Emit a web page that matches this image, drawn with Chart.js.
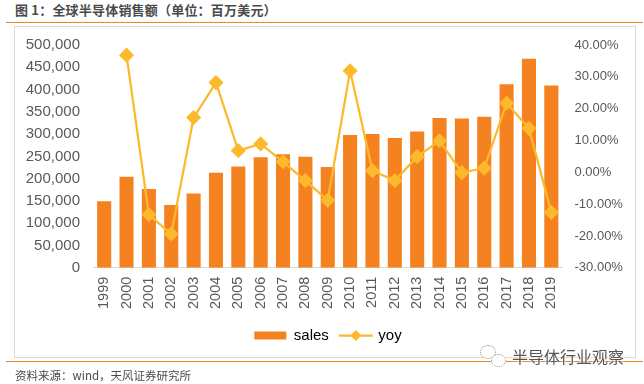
<!DOCTYPE html>
<html lang="zh">
<head>
<meta charset="UTF-8" />
<title>全球半导体销售额</title>
<script src="https://cdn.jsdelivr.net/npm/chart.js@4/dist/chart.umd.min.js"></script>
<style>
  html, body { margin: 0; padding: 0; background: #fff; }
  #wrap { position: relative; width: 644px; height: 384px; overflow: hidden; }
  #chart { position: absolute; left: 0; top: 0; }
  .cjk { position: absolute; font-family: "Noto Sans CJK SC", sans-serif; white-space: nowrap; }
  #title { left: 15px; top: 0px; font-size: 13px; line-height: 20px; font-weight: 700; letter-spacing: 0.2px; color: #4a4a4a; }
  #source { left: 15px; top: 366px; font-size: 11.5px; line-height: 18px; color: #4a4a4a; }
  #mark { left: 512px; top: 345px; font-size: 16px; line-height: 22px; color: #555; text-shadow: 0 0 2px #fff, 0 0 2px #fff; }
  .rule { position: absolute; left: 6px; right: 1px; height: 1px; background: #f5821f; }
  #frame { position: absolute; left: 14px; top: 26px; width: 620px; height: 330px; border: 1px solid #d9d9d9; }
  .bubble { position: absolute; border: 1px dotted #888; border-radius: 50%; background: #fff; }
</style>
</head>
<body>
<div id="wrap">
  <div id="title" class="cjk">图 1&#xFF1A;全球半导体销售额&#xFF08;单位&#xFF1A;百万美元&#xFF09;</div>
  <div class="rule" style="top:22px"></div>
  <div id="frame"></div>
  <div class="rule" style="top:361px"></div>
  <canvas id="chart" width="644" height="384"></canvas>
  <div id="source" class="cjk">资料来源&#xFF1A;wind&#xFF0C;天风证券研究所</div>
  <div class="bubble" style="left:480px;top:345px;width:14px;height:12px"></div>
  <div class="bubble" style="left:491px;top:354px;width:13px;height:11px"></div>
  <div id="mark" class="cjk">半导体行业观察</div>
</div>
<script>
var years = ['1999','2000','2001','2002','2003','2004','2005','2006','2007','2008','2009','2010','2011','2012','2013','2014','2015','2016','2017','2018','2019'];
var sales = [149400,204000,177000,141000,166500,213000,227000,248000,255000,249000,226000,298000,300000,291000,306000,336000,335000,339000,412000,469000,409000];
var yoy = [null,36.8,-13.3,-19.4,17.2,28.2,6.8,8.9,3.3,-2.6,-8.8,31.9,0.5,-2.6,4.9,9.9,-0.1,1.3,21.7,13.8,-12.6];

var barColor = '#f58220';
var lineColor = '#fdb92c';
var textColor = '#595959';

// the built in legend has no line + marker swatch, so draw that one here
var yoySwatch = {
  id: 'yoySwatch',
  afterDraw: function (chart) {
    var box = chart.legend.legendHitBoxes[1];
    var ctx = chart.ctx;
    var y = box.top + box.height / 2;
    ctx.save();
    ctx.strokeStyle = lineColor;
    ctx.fillStyle = lineColor;
    ctx.lineWidth = 2.25;
    ctx.beginPath();
    ctx.moveTo(box.left, y);
    ctx.lineTo(box.left + 34, y);
    ctx.stroke();
    Chart.helpers.drawPoint(ctx, { pointStyle: 'rectRot', radius: 5.5, borderWidth: 0 }, box.left + 17, y);
    ctx.restore();
  }
};

new Chart(document.getElementById('chart').getContext('2d'), {
  type: 'bar',
  data: {
    labels: years,
    datasets: [
      { type: 'bar', label: 'sales', data: sales, yAxisID: 'y', backgroundColor: barColor, categoryPercentage: 1, barPercentage: 0.63, order: 2 },
      { type: 'line', label: 'yoy', data: yoy, yAxisID: 'y1', borderColor: lineColor, backgroundColor: lineColor, borderWidth: 2.25, tension: 0, pointStyle: 'rectRot', pointRadius: 6, order: 1 }
    ]
  },
  plugins: [yoySwatch],
  options: {
    responsive: false,
    animation: false,
    layout: { padding: { left: 12, top: 45, right: 0, bottom: 31 } },
    plugins: {
      tooltip: { enabled: false },
      legend: {
        position: 'bottom',
        labels: {
          boxWidth: 32,
          boxHeight: 8,
          color: textColor,
          font: { family: '"Liberation Sans"', size: 15 },
          generateLabels: function () {
            return [
              { text: 'sales', fillStyle: barColor, strokeStyle: barColor, lineWidth: 0, datasetIndex: 0 },
              { text: 'yoy', fillStyle: 'rgba(0,0,0,0)', strokeStyle: 'rgba(0,0,0,0)', lineWidth: 0, datasetIndex: 1 }
            ];
          }
        }
      }
    },
    scales: {
      x: {
        grid: { display: false, drawTicks: false },
        border: { color: '#d9d9d9' },
        ticks: { autoSkip: false, minRotation: 90, maxRotation: 90, padding: 9, color: textColor, font: { family: '"Liberation Sans"', size: 14.5 } }
      },
      y: {
        position: 'left',
        min: 0,
        max: 500000,
        grid: { display: false, drawTicks: false },
        border: { display: false },
        ticks: {
          stepSize: 50000,
          padding: 13,
          color: textColor,
          font: { family: '"Liberation Sans"', size: 15 },
          callback: function (v) { return v.toLocaleString('en-US'); }
        },
        afterFit: function (s) { s.width = 81; }
      },
      y1: {
        position: 'right',
        min: -30,
        max: 40,
        grid: { display: false, drawTicks: false },
        border: { display: false },
        ticks: {
          stepSize: 10,
          padding: 12,
          color: textColor,
          font: { family: '"Liberation Sans"', size: 13 },
          callback: function (v) { return v.toFixed(2) + '%'; }
        },
        afterFit: function (s) { s.width = 81.5; }
      }
    }
  }
});
</script>
</body>
</html>
